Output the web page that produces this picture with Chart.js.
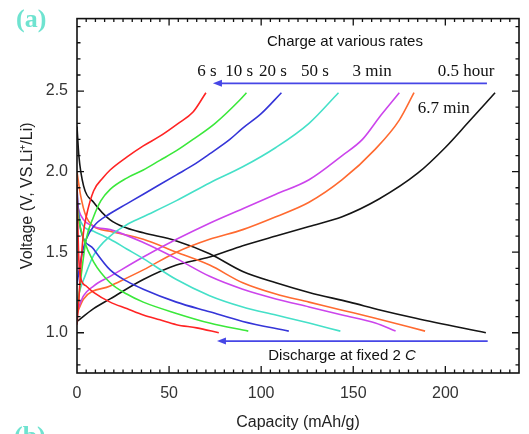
<!DOCTYPE html>
<html><head><meta charset="utf-8">
<script src="https://cdn.jsdelivr.net/npm/chart.js@4/dist/chart.umd.min.js"></script>
<style>html,body{margin:0;padding:0;background:#fff;}#wrap{width:529px;height:434px;position:relative}</style>
</head><body><div id="wrap"><canvas id="c" width="529" height="434"></canvas></div>
<script>
// ---- data (capacity mAh/g, voltage V) ----
const xTicks = [0, 50, 100, 150, 200];
const yTicks = [1.0, 1.5, 2.0, 2.5];
const rateLabels = ['6 s', '10 s', '20 s', '50 s', '3 min', '0.5 hour'];
const rateLabelCap = [70.6, 88, 106.4, 129.2, 160.2, 211.2];

const charge6s   = [[0,1.05],[1,1.2],[2,1.4],[3.5,1.62],[5,1.72],[9,1.88],[14,1.96],[18,2.01],[27,2.09],[36,2.16],[45,2.22],[55,2.3],[63,2.37],[70,2.49]];
const dis6s      = [[0,1.92],[0.5,1.65],[1,1.45],[2,1.34],[5,1.29],[9,1.25],[18,1.19],[27,1.15],[36,1.11],[45,1.08],[54,1.05],[65,1.03],[77,1.0]];
const charge10s  = [[0,1.1],[1,1.22],[2,1.33],[5,1.58],[9,1.72],[13,1.82],[18,1.89],[27,1.96],[36,2.01],[45,2.07],[54,2.13],[63,2.2],[75,2.3],[88,2.44],[92,2.49]];
const dis10s     = [[0,1.8],[1,1.7],[3.6,1.58],[9,1.44],[18,1.31],[27,1.24],[36,1.19],[54,1.12],[72,1.06],[93,1.01]];
const charge20s  = [[0,1.3],[2,1.45],[5,1.58],[9,1.66],[18,1.74],[27,1.8],[36,1.86],[54,1.98],[63,2.04],[72,2.11],[83,2.2],[90,2.27],[100,2.36],[111,2.49]];
const dis20s     = [[0,1.9],[1,1.72],[2,1.64],[9,1.52],[18,1.39],[27,1.32],[36,1.27],[54,1.19],[72,1.13],[90,1.07],[115,1.01]];
const charge50s  = [[0,1.2],[2,1.28],[3.6,1.33],[9,1.48],[18,1.6],[27,1.67],[36,1.72],[54,1.82],[72,1.93],[90,2.03],[108,2.15],[126,2.3],[142,2.49]];
const dis50s     = [[0,1.8],[2,1.69],[9,1.63],[18,1.58],[27,1.52],[36,1.46],[54,1.33],[72,1.23],[90,1.16],[108,1.11],[126,1.06],[143,1.01]];
const charge3m   = [[0,1.13],[3.6,1.23],[9,1.29],[18,1.35],[36,1.47],[54,1.58],[72,1.68],[90,1.77],[108,1.86],[126,1.95],[144,2.1],[155,2.2],[165,2.35],[175,2.49]];
const dis3m      = [[0,1.8],[2,1.73],[9,1.66],[18,1.64],[36,1.56],[54,1.46],[72,1.35],[90,1.27],[108,1.21],[126,1.16],[144,1.11],[162,1.06],[173,1.01]];
const charge67m  = [[0,1.12],[3.6,1.21],[18,1.29],[36,1.39],[54,1.5],[72,1.58],[90,1.64],[108,1.72],[126,1.81],[144,1.95],[162,2.14],[175,2.32],[183,2.49]];
const dis67m     = [[0,2.0],[2,1.85],[5,1.72],[9,1.66],[18,1.63],[36,1.58],[54,1.5],[72,1.42],[90,1.31],[108,1.24],[126,1.19],[144,1.14],[162,1.09],[189,1.01]];
const charge05h  = [[0,1.07],[9,1.15],[18,1.21],[36,1.33],[54,1.42],[72,1.47],[90,1.54],[108,1.6],[126,1.66],[144,1.72],[164,1.83],[185,1.99],[200,2.15],[212,2.3],[227,2.49]];
const dis05h     = [[0,2.28],[1,2.1],[3.6,1.91],[9,1.81],[18,1.7],[27,1.65],[36,1.62],[54,1.57],[72,1.49],[90,1.38],[108,1.31],[126,1.25],[148,1.19],[165,1.14],[184,1.09],[222,1.0]];

const series = [
  {name:'6 s',     color:'#ff2424', charge:charge6s,  dis:dis6s},
  {name:'10 s',    color:'#3be83b', charge:charge10s, dis:dis10s},
  {name:'20 s',    color:'#3535d8', charge:charge20s, dis:dis20s},
  {name:'50 s',    color:'#45e0c8', charge:charge50s, dis:dis50s},
  {name:'3 min',   color:'#cc45ec', charge:charge3m,  dis:dis3m},
  {name:'6.7 min', color:'#ff6a30', charge:charge67m, dis:dis67m},
  {name:'0.5 hour',color:'#151515', charge:charge05h, dis:dis05h}
];

const datasets = [];
series.forEach(s => {
  ['charge','dis'].forEach(k => {
    datasets.push({
      label: s.name + ' ' + k,
      data: s[k].map(p => ({x:p[0], y:p[1]})),
      borderColor: s.color,
      backgroundColor: s.color,
      borderWidth: 1.6,
      pointRadius: 0,
      showLine: true,
      fill: false,
      cubicInterpolationMode: 'monotone'
    });
  });
});

const SANS = '"Liberation Sans", Arial, sans-serif';
const SERIF = '"Liberation Serif", "Times New Roman", serif';

function arrow(ctx, x1, x2, y, color) {
  ctx.save();
  ctx.strokeStyle = color; ctx.fillStyle = color; ctx.lineWidth = 1.6;
  ctx.beginPath(); ctx.moveTo(x1, y); ctx.lineTo(x2 + 6, y); ctx.stroke();
  ctx.beginPath(); ctx.moveTo(x2, y); ctx.lineTo(x2 + 9, y - 3.5); ctx.lineTo(x2 + 9, y + 3.5); ctx.closePath(); ctx.fill();
  ctx.restore();
}

const framePlugin = {
  id: 'frame',
  afterDatasetsDraw(chart) {
    const {ctx, chartArea: a, scales: {x, y}} = chart;
    ctx.save();
    ctx.strokeStyle = '#111'; ctx.lineWidth = 1.6;
    ctx.strokeRect(a.left, a.top, a.right - a.left, a.bottom - a.top);
    ctx.lineWidth = 1.3;
    ctx.beginPath();
    for (let v = 5; v < 240; v += 5) {
      const px = x.getPixelForValue(v);
      const len = (v % 50 === 0) ? 7 : 3.5;
      ctx.moveTo(px, a.bottom); ctx.lineTo(px, a.bottom - len);
      ctx.moveTo(px, a.top); ctx.lineTo(px, a.top + len);
    }
    for (let i = 8; i <= 29; i++) {
      const v = i / 10;
      const py = y.getPixelForValue(v);
      const len = (i % 5 === 0) ? 7 : 3.5;
      ctx.moveTo(a.left, py); ctx.lineTo(a.left + len, py);
      ctx.moveTo(a.right, py); ctx.lineTo(a.right - len, py);
    }
    ctx.stroke();
    ctx.restore();
  },
  afterDraw(chart) {
    const {ctx, scales: {x, y}} = chart;
    ctx.save();
    // panel labels
    ctx.fillStyle = '#6fe3d0';
    ctx.font = 'bold 26px ' + SERIF;
    ctx.textBaseline = 'alphabetic'; ctx.textAlign = 'left';
    ctx.fillText('(a)', 16, 27);
    ctx.fillText('(b)', 14, 444);
    // charge annotation
    ctx.fillStyle = '#111';
    ctx.textAlign = 'center'; ctx.textBaseline = 'middle';
    ctx.font = '15px ' + SANS;
    ctx.fillText('Charge at various rates', x.getPixelForValue(145.5), y.getPixelForValue(2.808));
    ctx.font = '17px ' + SERIF;
    rateLabels.forEach((t, i) => ctx.fillText(t, x.getPixelForValue(rateLabelCap[i]), y.getPixelForValue(2.623)));
    ctx.textAlign = 'left';
    ctx.fillText('6.7 min', x.getPixelForValue(185), y.getPixelForValue(2.394));
    arrow(ctx, x.getPixelForValue(222.6), x.getPixelForValue(73.8), y.getPixelForValue(2.548), '#4646e6');
    // discharge annotation
    arrow(ctx, x.getPixelForValue(223), x.getPixelForValue(76), y.getPixelForValue(0.948), '#4646e6');
    ctx.font = '15px ' + SANS;
    const t1 = 'Discharge at fixed 2 ';
    ctx.font = 'italic 15px ' + SANS;
    const wC = ctx.measureText('C').width;
    ctx.font = '15px ' + SANS;
    const w1 = ctx.measureText(t1).width;
    const cx = x.getPixelForValue(143.9), cy = y.getPixelForValue(0.855);
    const start = cx - (w1 + wC) / 2;
    ctx.fillText(t1, start, cy);
    ctx.font = 'italic 15px ' + SANS;
    ctx.fillText('C', start + w1, cy);
    ctx.restore();
  }
};

new Chart(document.getElementById('c'), {
  type: 'scatter',
  data: { datasets },
  options: {
    responsive: false,
    devicePixelRatio: 1,
    animation: false,
    layout: { padding: { left: 0, right: 10, top: 17, bottom: 0 } },
    plugins: { legend: { display: false }, tooltip: { enabled: false } },
    scales: {
      x: {
        type: 'linear', min: 0, max: 240,
        afterBuildTicks: s => { s.ticks = xTicks.map(v => ({value: v})); },
        afterFit: s => { s.height = 61; },
        grid: { display: false, drawTicks: false },
        border: { display: false },
        ticks: { padding: 11, color: '#333', font: { family: SANS, size: 16 }, maxRotation: 0 },
        title: { display: true, text: 'Capacity (mAh/g)', color: '#222', font: { family: SANS, size: 16 }, padding: { top: 0, bottom: 2 } }
      },
      y: {
        type: 'linear', min: 0.75, max: 2.95,
        afterBuildTicks: s => { s.ticks = yTicks.map(v => ({value: v})); },
        afterFit: s => { s.width = 77; },
        grid: { display: false, drawTicks: false },
        border: { display: false },
        ticks: { padding: 9, color: '#333', font: { family: SANS, size: 16 }, callback: v => Number(v).toFixed(1) },
        title: { display: true, text: 'Voltage (V, VS.Li\u207A/Li)', color: '#222', font: { family: SANS, size: 16 }, padding: { top: 18, bottom: 0 } }
      }
    }
  },
  plugins: [framePlugin]
});
</script></body></html>
